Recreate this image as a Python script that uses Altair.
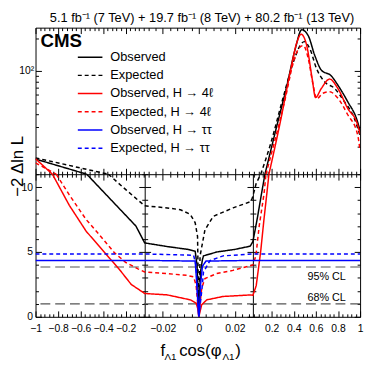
import altair as alt
import pandas as pd

FONT = "Liberation Sans"

# ---------------- data ----------------
SERIES = ["Observed", "Expected", "Observed, H → 4ℓ", "Expected, H → 4ℓ",
          "Observed, H → ττ", "Expected, H → ττ"]
COLORS = ["#000000", "#000000", "#ff0000", "#ff0000", "#0000ff", "#0000ff"]
DASHES = [[1, 0], [4, 3], [1, 0], [4, 3], [1, 0], [4, 3]]

# lower part of the plot (linear, 0 .. 11)
obs_low_x = [-0.545, -0.108, -0.03, -0.0175, -0.006, -0.002, -0.001, -0.0004, 0.0,
             0.0005, 0.001, 0.002, 0.0026, 0.01, 0.02, 0.0285, 0.03, 0.07, 0.11, 0.139]
obs_low_y = [11.0, 7.0, 5.7, 5.42, 5.2, 5.05, 4.0, 2.0, 0.0,
             2.0, 3.5, 4.4, 4.7, 5.0, 5.2, 5.45, 5.8, 7.6, 9.6, 11.0]

exp_low_x = [-0.353, -0.193, -0.03, -0.0175, -0.0102, -0.0047, -0.002, -0.0007, 0.0,
             0.0007, 0.0034, 0.008, 0.019, 0.029, 0.03, 0.06, 0.101]
exp_low_y = [11.0, 9.77, 8.56, 8.4, 8.26, 7.9, 7.25, 6.2, 0.0,
             4.7, 6.7, 7.75, 8.4, 8.9, 9.3, 10.3, 11.0]

obs4l_low_x = [-0.85, -0.7, -0.55, -0.4, -0.25, -0.15, -0.03, -0.0175, -0.0047, -0.0015,
               -0.0005, 0.0, 0.0016, 0.0044, 0.0135, 0.029, 0.03, 0.06, 0.1, 0.13, 0.16, 0.175]
obs4l_low_y = [11.0, 8.6, 6.6, 5.1, 3.6, 2.5, 1.8, 1.69, 1.31, 1.06,
               0.6, 0.0, 0.93, 1.31, 1.57, 1.69, 1.65, 2.4, 5.0, 7.5, 9.8, 11.0]

exp4l_low_x = [-0.816, -0.7, -0.55, -0.45, -0.3, -0.2, -0.09, -0.03, -0.0175, -0.0066,
               -0.0029, -0.0015, 0.0, 0.0016, 0.0034, 0.0098, 0.0189, 0.029, 0.03,
               0.057, 0.087, 0.131, 0.148]
exp4l_low_y = [11.0, 9.4, 7.5, 6.5, 4.95, 4.2, 3.7, 3.46, 3.33, 3.2,
               3.08, 2.45, 0.0, 2.2, 2.95, 3.33, 3.58, 3.96, 4.0,
               4.7, 7.0, 9.5, 11.0]

obstt_x = [-1.0, -0.03, -0.002, -0.0012, -0.0002, 0.0, 0.0003, 0.001, 0.002, 0.004, 0.03, 1.0]
obstt_y = [4.35, 4.35, 4.3, 2.7, 0.3, 0.0, 0.3, 2.5, 3.9, 4.3, 4.35, 4.35]

exptt_x = [-1.0, -0.03, -0.0029, -0.0015, 0.0, 0.0018, 0.0026, 0.0062, 0.0135, 0.03, 1.0]
exptt_y = [4.85, 4.85, 4.75, 3.96, 0.0, 2.2, 3.46, 4.34, 4.7, 4.85, 4.85]

# upper part of the plot (log, 11 .. 252): left and right branches
obs_upL_x = [-1.0, -0.545]
obs_upL_y = [15.2, 11.0]
obs_upR_x = [0.139, 0.235, 0.339, 0.413, 0.472, 0.531, 0.59, 0.65, 0.739, 0.798, 0.887, 0.976, 1.0]
obs_upR_y = [11.0, 27.7, 74, 160, 241, 212, 139, 101.5, 90, 74, 52, 34, 27.7]

exp_upL_x = [-1.0, -0.353]
exp_upL_y = [15.6, 11.0]
exp_upR_x = [0.101, 0.19, 0.294, 0.397, 0.457, 0.495, 0.546, 0.606, 0.68, 0.768, 0.857, 0.946, 1.0]
exp_upR_y = [11.0, 21, 52, 121, 172, 187, 160, 105, 79, 69, 52, 36.7, 25]

obs4l_upL_x = [-1.0, -0.85]
obs4l_upL_y = [15.3, 11.0]
obs4l_upR_x = [0.175, 0.279, 0.368, 0.428, 0.466, 0.517, 0.566, 0.597, 0.65, 0.724, 0.798,
               0.887, 0.976, 1.0]
obs4l_upR_y = [11.0, 34, 98, 184, 219, 172, 85, 56.7, 69, 84, 69, 45, 32, 26]

exp4l_upL_x = [-1.0, -0.816]
exp4l_upL_y = [14.0, 11.0]
exp4l_upR_x = [0.148, 0.235, 0.324, 0.397, 0.442, 0.486, 0.531, 0.575, 0.606, 0.664, 0.724,
               0.798, 0.887, 0.976, 1.0]
exp4l_upR_y = [11.0, 24, 56, 121, 160, 172, 130, 74, 55, 62, 64, 56, 39.4, 26, 18.2]

CL_VALUES = [1.0, 3.84]

X_MAJOR = [-1, -0.8, -0.6, -0.4, -0.2, -0.02, 0, 0.02, 0.2, 0.4, 0.6, 0.8, 1]

# ---------------- tables ----------------
def rows(series, part, xs, ys):
    return [{"series": series, "part": part, "x": x, "y": y} for x, y in zip(xs, ys)]

low_df = pd.DataFrame(
    rows(SERIES[0], "a", obs_low_x, obs_low_y) + rows(SERIES[1], "a", exp_low_x, exp_low_y)
    + rows(SERIES[2], "a", obs4l_low_x, obs4l_low_y) + rows(SERIES[3], "a", exp4l_low_x, exp4l_low_y)
    + rows(SERIES[4], "a", obstt_x, obstt_y) + rows(SERIES[5], "a", exptt_x, exptt_y))
up_df = pd.DataFrame(
    rows(SERIES[0], "L", obs_upL_x, obs_upL_y) + rows(SERIES[0], "R", obs_upR_x, obs_upR_y)
    + rows(SERIES[1], "L", exp_upL_x, exp_upL_y) + rows(SERIES[1], "R", exp_upR_x, exp_upR_y)
    + rows(SERIES[2], "L", obs4l_upL_x, obs4l_upL_y) + rows(SERIES[2], "R", obs4l_upR_x, obs4l_upR_y)
    + rows(SERIES[3], "L", exp4l_upL_x, exp4l_upL_y) + rows(SERIES[3], "R", exp4l_upR_x, exp4l_upR_y))
cl_df = pd.DataFrame({"y": CL_VALUES})

# ---------------- layout ----------------
W, H, HU = 330, 294, 149
HL = H - HU
XB1, XB2 = 111, 221  # pixel positions of the axis breaks at -0.03 and 0.03

xscale = alt.Scale(domain=[-1, -0.03, 0.03, 1], range=[0, XB1, XB2, W], nice=False, zero=False)
yU = alt.Scale(type="log", domain=[11, 252], range=[HU, 0], nice=False)
yL = alt.Scale(domain=[0, 11], range=[H, HU], nice=False, zero=False)

x_minor = ([round(-0.96 + 0.04 * i, 4) for i in range(24)]
           + [round(-0.028 + 0.004 * i, 4) for i in range(15)]
           + [round(0.04 + 0.04 * i, 4) for i in range(24)])
x_ticks = sorted(set(X_MAJOR + x_minor))
yl_ticks = list(range(0, 12))
yu_ticks = [20, 30, 40, 50, 60, 70, 80, 90, 100, 200]

XTEST = ("(abs(datum.value) > 0.1 && abs(datum.value*5 - round(datum.value*5)) < 0.001) || "
         "(abs(datum.value) < 0.025 && abs(datum.value*50 - round(datum.value*50)) < 0.001)")
YLTEST = "datum.value % 5 == 0"
YUTEST = "datum.value == 100"


def tick_axis(orient, offset, values, test, domain=False):
    return alt.Axis(orient=orient, offset=offset, values=values, labels=False, title=None,
                    grid=False, domain=domain, domainColor="black", domainWidth=1,
                    ticks=True, tickColor="black", tickWidth=1,
                    tickSize={"condition": {"test": test, "value": 6}, "value": 3})


axdf = pd.DataFrame({"x": [0.5], "yl": [5.0], "yu": [50.0]})


def axis_layer(xaxis=None, yaxis=None, upper=False):
    enc = {}
    if xaxis is not None:
        enc["x"] = alt.X("x:Q", scale=xscale, axis=xaxis)
    if yaxis is not None:
        if upper:
            enc["y"] = alt.Y("yu:Q", scale=yU, axis=yaxis)
        else:
            enc["y"] = alt.Y("yl:Q", scale=yL, axis=yaxis)
    return alt.Chart(axdf).mark_point(opacity=0).encode(**enc)


x_label_axis = alt.Axis(orient="bottom", values=X_MAJOR, labelExpr="format(datum.value, '~g')",
                        ticks=False, domain=False, grid=False, title=None, labelFontSize=10.5,
                        labelPadding=7, labelFlush=False, labelOverlap=False, labelBound=False)
yl_label_axis = alt.Axis(orient="left", values=[0, 5, 10], ticks=False, domain=False, grid=False,
                         title=None, labelFontSize=10.5, labelPadding=3, labelOverlap=False)
yu_label_axis = alt.Axis(orient="left", values=[100], labelExpr="'10²'", ticks=False, domain=False,
                         grid=False, title=None, labelFontSize=10.5, labelPadding=2, labelOverlap=False)

axis_layers = [
    axis_layer(x_label_axis, yl_label_axis),
    axis_layer(tick_axis("top", -H, x_ticks, XTEST), tick_axis("right", -W, yl_ticks, YLTEST)),
    axis_layer(tick_axis("bottom", -H, x_ticks, XTEST), tick_axis("left", -W, yl_ticks, YLTEST)),
    axis_layer(tick_axis("top", -HU, x_ticks, XTEST, domain=True),
               tick_axis("right", -W, yu_ticks, YUTEST), upper=True),
    axis_layer(tick_axis("bottom", -HL, x_ticks, XTEST),
               tick_axis("left", -W, yu_ticks, YUTEST), upper=True),
    axis_layer(None, tick_axis("left", -XB1, yl_ticks, YLTEST, domain=True)),
    axis_layer(None, tick_axis("right", -(W - XB1), yl_ticks, YLTEST)),
    axis_layer(None, tick_axis("left", -XB2, yl_ticks, YLTEST, domain=True)),
    axis_layer(None, tick_axis("right", -(W - XB2), yl_ticks, YLTEST)),
    axis_layer(None, yu_label_axis, upper=True),
]

cscale = alt.Scale(domain=SERIES, range=COLORS)
dscale = alt.Scale(domain=SERIES, range=DASHES)
leg = alt.Legend(title=None, orient="none", legendX=42, legendY=23, symbolType="stroke",
                 symbolSize=625, symbolStrokeWidth=1.5, labelFontSize=13, labelFont=FONT,
                 labelColor="black", clipHeight=14, rowPadding=4.5, labelOffset=7,
                 labelLimit=0, padding=0)

cl_rules = alt.Chart(cl_df).mark_rule(color="#555555", strokeDash=[10, 5], strokeWidth=1.2).encode(
    y=alt.Y("y:Q", scale=yL, axis=None))

lines_low = alt.Chart(low_df).mark_line(strokeWidth=1.5, clip=True).encode(
    x=alt.X("x:Q", scale=xscale, axis=None),
    y=alt.Y("y:Q", scale=yL, axis=None),
    color=alt.Color("series:N", scale=cscale, legend=leg),
    strokeDash=alt.StrokeDash("series:N", scale=dscale, legend=leg),
    detail="part:N")

lines_up = alt.Chart(up_df).mark_line(strokeWidth=1.5, clip=True, interpolate="monotone").encode(
    x=alt.X("x:Q", scale=xscale, axis=None),
    y=alt.Y("y:Q", scale=yU, axis=None),
    color=alt.Color("series:N", scale=cscale, legend=leg),
    strokeDash=alt.StrokeDash("series:N", scale=dscale, legend=leg),
    detail="part:N")

one = pd.DataFrame({"a": [0]})


def text(t, x, y, **kw):
    return alt.Chart(one).mark_text(text=t, font=FONT, color="black", **kw).encode(
        x=alt.value(x), y=alt.value(y))


texts = [
    text("5.1 fb⁻¹ (7 TeV) + 19.7 fb⁻¹ (8 TeV) + 80.2 fb⁻¹ (13 TeV)", 324, -6,
         align="right", baseline="alphabetic", fontSize=13),
    text("CMS", 5, 20, align="left", baseline="alphabetic", fontSize=19, fontWeight="bold"),
    text("95% CL", 296, 254, align="center", baseline="middle", fontSize=11),
    text("68% CL", 296, 274.5, align="center", baseline="middle", fontSize=11),
    text("−2 Δln L", -12.5, 141, align="center", baseline="alphabetic", fontSize=17, angle=270),
    text("f", 127, 334, align="left", baseline="alphabetic", fontSize=17),
    text("Λ1", 131, 338, align="left", baseline="alphabetic", fontSize=10),
    text("cos(φ", 146, 334, align="left", baseline="alphabetic", fontSize=17),
    text("Λ1", 190, 338, align="left", baseline="alphabetic", fontSize=10),
    text(")", 203, 334, align="left", baseline="alphabetic", fontSize=17),
]

chart = alt.layer(
    *axis_layers, cl_rules, lines_low, lines_up, *texts
).properties(
    width=W, height=H,
    autosize=alt.AutoSizeParams(type="none"),
    padding={"left": 28, "top": 17, "right": 6, "bottom": 46},
).resolve_scale(y="independent").resolve_axis(x="independent", y="independent").configure_view(
    stroke="black", strokeWidth=1
).configure_axis(labelFont=FONT, labelColor="black", grid=False)

chart.save("out.html", embed_options={"renderer": "svg", "actions": False})
